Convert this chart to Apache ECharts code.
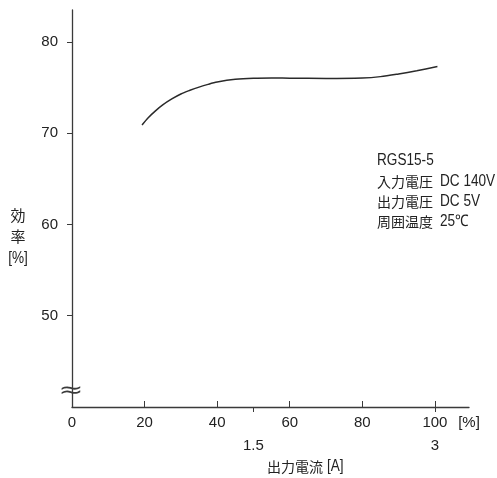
<!DOCTYPE html>
<html>
<head>
<meta charset="utf-8">
<script src="https://cdn.jsdelivr.net/npm/echarts@6/dist/echarts.min.js"></script>
<style>
html,body{margin:0;padding:0;background:#fff;}
#c{width:497px;height:478px;}
</style>
</head>
<body>
<div id="c"></div>
<script>
// Data (load in %, efficiency in %)
const loadPct = [19.3, 21, 23, 25, 27.5, 30, 32.5, 35, 37.5, 40, 45, 50, 55, 60, 70, 80, 85, 90, 95, 100.7];
const efficiency = [70.9, 71.7, 72.45, 73.1, 73.75, 74.3, 74.7, 75.05, 75.35, 75.6, 75.9, 76.03, 76.06, 76.03, 76.0, 76.05, 76.2, 76.5, 76.85, 77.3];
const yTicks = [50, 60, 70, 80];
const xPctTicks = [0, 20, 40, 60, 80, 100];
const xAmpTicks = [1.5, 3];
const xPctMax = 109.4;
const ratedAmp = 3; // 100% = 3 A
const infoLines = [
  ['RGS15-5', ''],
  ['入力電圧', 'DC 140V'],
  ['出力電圧', 'DC 5V'],
  ['周囲温度', '25℃']
];

const NUM_FONT = "'Liberation Sans',Arial,sans-serif";
const CJK_FONT = "'Noto Sans CJK JP','Noto Sans CJK SC',sans-serif";
const TXT = '#222';
const AX = '#3a3a3a';

const chart = echarts.init(document.getElementById('c'), null, {renderer: 'canvas'});

const graphics = [];
// y axis title (vertical stacked)
[['効', 215], ['率', 236.5], ['[%]', 258.5]].forEach(function (t) {
  graphics.push({
    type: 'text', x: 18, y: t[1], scaleX: t[0] === '[%]' ? 0.85 : 1,
    style: {text: t[0], font: (t[0] === '[%]' ? "16px " + NUM_FONT : "15px " + CJK_FONT),
      fill: TXT, textAlign: 'center', textVerticalAlign: 'middle'}
  });
});
// x axis title
graphics.push({
  type: 'text', x: 267, y: 467,
  style: {text: '出力電流', font: "14px " + CJK_FONT, fill: TXT,
    textAlign: 'left', textVerticalAlign: 'middle'}
});
graphics.push({
  type: 'text', x: 327, y: 467, scaleX: 0.85,
  style: {text: '[A]', font: "16px " + NUM_FONT, fill: TXT,
    textAlign: 'left', textVerticalAlign: 'middle'}
});
// axis break symbol
graphics.push({
  type: 'text', x: 71, y: 391, scaleX: 1.35,
  style: {text: '≈', font: "22px 'DejaVu Sans',sans-serif", fill: AX,
    textAlign: 'center', textVerticalAlign: 'middle'}
});
// info block
const infoY = [161, 181.5, 202, 222];
infoLines.forEach(function (l, i) {
  const isCjk = i > 0;
  graphics.push({
    type: 'text', x: 377, y: infoY[i], scaleX: isCjk ? 1 : 0.85,
    style: {text: l[0], font: (isCjk ? "14px " + CJK_FONT : "16px " + NUM_FONT), fill: TXT,
      textAlign: 'left', textVerticalAlign: 'middle'}
  });
  if (l[1]) {
    graphics.push({
      type: 'text', x: 440, y: infoY[i], scaleX: 0.85,
      style: {text: l[1], font: "16px " + NUM_FONT, fill: TXT,
        textAlign: 'left', textVerticalAlign: 'middle'}
    });
  }
});

const option = {
  backgroundColor: '#fff',
  animation: false,
  grid: {left: 72, right: 28, top: 10, bottom: 71, containLabel: false},
  xAxis: [
    {
      type: 'value', min: 0, max: xPctMax, position: 'bottom',
      splitLine: {show: false},
      axisLine: {show: true, onZero: false, lineStyle: {color: AX, width: 1.3}},
      axisTick: {show: true, inside: true, length: 6, customValues: xPctTicks.slice(1), lineStyle: {color: AX}},
      axisLabel: {
        show: true, margin: 8, customValues: xPctTicks.concat([xPctMax]),
        formatter: function (v) { return v === xPctMax ? '[%]' : String(v); },
        color: TXT, fontSize: 15, fontFamily: NUM_FONT
      }
    },
    {
      type: 'value', min: 0, max: xPctMax * ratedAmp / 100, position: 'bottom',
      splitLine: {show: false},
      axisLine: {show: false, onZero: false},
      axisTick: {show: true, inside: false, length: 5, customValues: xAmpTicks, lineStyle: {color: AX}},
      axisLabel: {
        show: true, margin: 31, customValues: xAmpTicks,
        formatter: function (v) { return String(v); },
        color: TXT, fontSize: 15, fontFamily: NUM_FONT
      }
    }
  ],
  yAxis: {
    type: 'value', min: 40, max: 83.5, interval: 10,
    splitLine: {show: false},
    axisLine: {show: true, onZero: false, lineStyle: {color: AX, width: 1.3}},
    axisTick: {show: true, inside: false, length: 5, customValues: yTicks, lineStyle: {color: AX}},
    axisLabel: {show: true, margin: 14, customValues: yTicks, color: TXT, fontSize: 15, fontFamily: NUM_FONT}
  },
  series: [{
    type: 'line', xAxisIndex: 0,
    data: loadPct.map(function (x, i) { return [x, efficiency[i]]; }),
    smooth: 0.3, showSymbol: false, symbol: 'none',
    lineStyle: {color: '#2a2a2a', width: 1.5}
  }],
  graphic: graphics
};
chart.setOption(option);
</script>
</body>
</html>
